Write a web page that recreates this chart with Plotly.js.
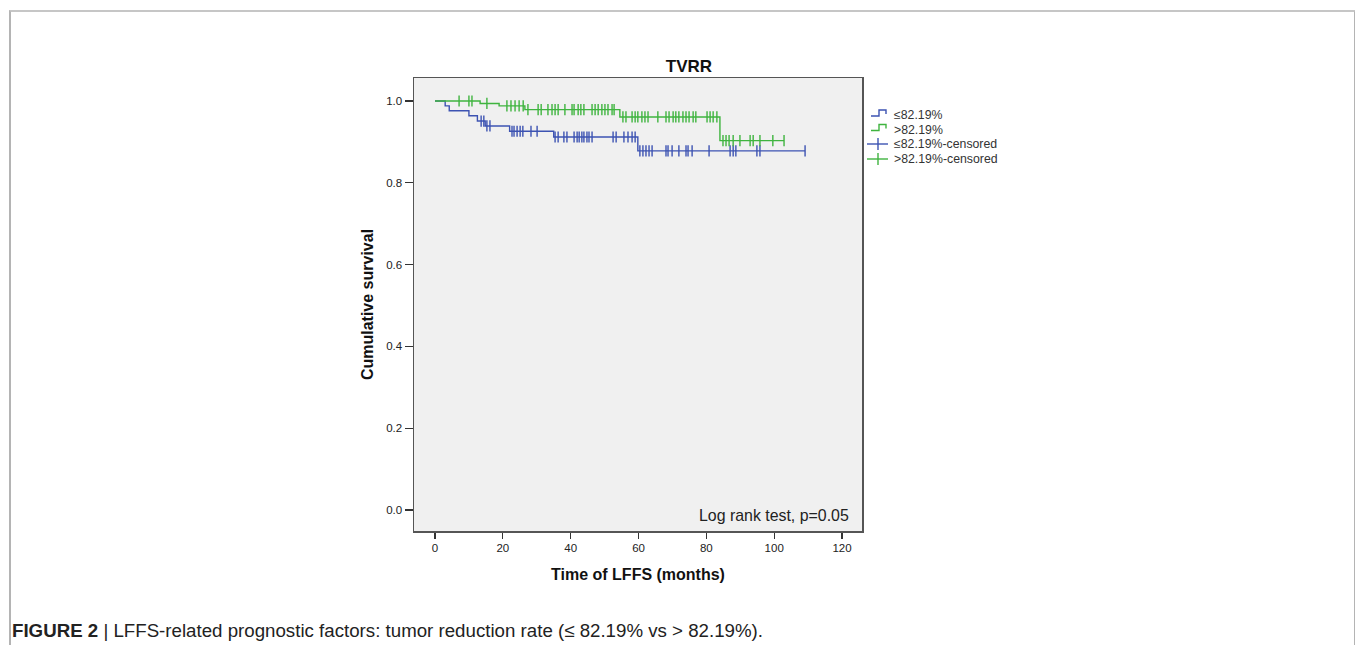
<!DOCTYPE html>
<html>
<head>
<meta charset="utf-8">
<script src="https://cdn.plot.ly/plotly-3.0.1.min.js"></script>
<style>
  html, body { margin: 0; padding: 0; background: #ffffff; width: 1355px; height: 645px; overflow: hidden; }
  #frame { position: absolute; left: 9px; top: 10px; width: 1343px; height: 700px;
           border-top: 2px solid #c6c6c6; border-left: 2px solid #b4b4b4; border-right: 2px solid #b4b4b4; }
  #chart { position: absolute; left: 0; top: 0; width: 1355px; height: 645px; }
</style>
</head>
<body>
<div id="frame"></div>
<div id="chart"></div>
<script>
// ---- data ----
const groupNames = ["≤82.19%", ">82.19%"];

// low group (≤82.19%): event times and survival after each event
const lowEventTimes = [3.0, 4.2, 10.0, 12.5, 14.8, 22.0, 35.0, 59.8];
const lowSurvival   = [0.988, 0.976, 0.964, 0.951, 0.939, 0.926, 0.912, 0.878];
const lowCensored   = [13.6, 14.4, 15.3, 16.2, 22.7, 23.3, 24.2, 25.1, 25.9, 28.3, 30.1,
                       35.4, 36.3, 38.0, 38.9, 41.0, 41.9, 42.5, 43.3, 43.9, 44.8, 45.4, 46.3,
                       52.5, 53.4, 55.7, 56.9, 58.1, 59.0, 60.4, 61.3, 62.2, 63.1, 64.0,
                       68.1, 68.7, 69.9, 71.9, 74.0, 74.6, 75.8, 80.8, 87.0, 87.9, 88.7,
                       94.9, 95.8, 109.1];

// high group (>82.19%)
const highEventTimes = [13.3, 18.9, 26.5, 54.5, 84.0];
const highSurvival   = [0.994, 0.988, 0.979, 0.961, 0.903];
const highCensored   = [7.1, 10.0, 10.9, 15.3, 21.2, 22.4, 23.6, 24.8, 26.0, 27.4, 30.4, 31.3,
                        33.3, 34.5, 35.4, 36.3, 38.3, 40.4, 41.0, 42.2, 43.0, 43.9, 46.3, 47.2,
                        48.1, 49.2, 50.1, 51.0, 52.2, 52.8, 55.4, 56.3, 58.1, 59.0, 59.8, 61.0,
                        61.9, 62.8, 65.7, 68.1, 69.0, 70.2, 71.0, 71.9, 73.1, 74.0, 74.9, 76.1,
                        76.9, 80.2, 81.1, 82.0, 83.1, 84.9, 85.8, 86.7, 87.9, 89.9, 92.9, 93.8,
                        95.8, 99.6, 102.9];

const xTicks = [0, 20, 40, 60, 80, 100, 120];
const yTicks = [0.0, 0.2, 0.4, 0.6, 0.8, 1.0];
const legendLabels = [groupNames[0], groupNames[1], groupNames[0] + "-censored", groupNames[1] + "-censored"];

// ---- helpers ----
function stepCurve(times, surv, censored) {
  const endT = Math.max(times[times.length - 1], censored[censored.length - 1]);
  const x = [0].concat(times, [endT]);
  const y = [1].concat(surv, [surv[surv.length - 1]]);
  return {x, y};
}
function survAt(times, surv, t) {
  let s = 1;
  for (let i = 0; i < times.length; i++) if (times[i] <= t) s = surv[i];
  return s;
}

const blue = "#3d53b2";
const green = "#3fb43f";

const lowC = stepCurve(lowEventTimes, lowSurvival, lowCensored);
const highC = stepCurve(highEventTimes, highSurvival, highCensored);

const traces = [
  {x: lowC.x, y: lowC.y, mode: "lines", line: {shape: "hv", color: blue, width: 1.4},
   showlegend: false, hoverinfo: "skip"},
  {x: highC.x, y: highC.y, mode: "lines", line: {shape: "hv", color: green, width: 1.4},
   showlegend: false, hoverinfo: "skip"},
  {x: lowCensored, y: lowCensored.map(t => survAt(lowEventTimes, lowSurvival, t)),
   mode: "markers", marker: {symbol: "line-ns-open", size: 8, color: blue, line: {color: blue, width: 1.4}},
   showlegend: false, hoverinfo: "skip"},
  {x: highCensored, y: highCensored.map(t => survAt(highEventTimes, highSurvival, t)),
   mode: "markers", marker: {symbol: "line-ns-open", size: 8, color: green, line: {color: green, width: 1.4}},
   showlegend: false, hoverinfo: "skip"}
];

const W = 1355, H = 645;
const L = 414, R = 862, T = 78, B = 531;
const pw = R - L, ph = B - T;
const px = v => (v - L) / pw;
const py = v => (B - v) / ph;

// manual legend (SPSS style)
const legendColors = [blue, green, blue, green];
const rowY = [115, 129.5, 144, 159];
const shapes = [];
const annotations = [];
for (let i = 0; i < 4; i++) {
  const y = rowY[i];
  if (i < 2) {
    const path = `M${px(871)},${py(y + 1)} L${px(879)},${py(y + 1)} L${px(879)},${py(y - 5)} L${px(886)},${py(y - 5)} L${px(886)},${py(y - 1)}`;
    shapes.push({type: "path", xref: "paper", yref: "paper", path,
                 line: {color: legendColors[i], width: 1.4}});
  } else {
    shapes.push({type: "line", xref: "paper", yref: "paper", x0: px(867), x1: px(888), y0: py(y), y1: py(y),
                 line: {color: legendColors[i], width: 1.4}});
    shapes.push({type: "line", xref: "paper", yref: "paper", x0: px(878), x1: px(878), y0: py(y - 6), y1: py(y + 6),
                 line: {color: legendColors[i], width: 1.4}});
  }
  annotations.push({text: legendLabels[i], xref: "paper", yref: "paper", x: px(892), y: py(y),
                    xanchor: "left", yanchor: "middle", showarrow: false,
                    font: {size: 12.3, color: "#333"}});
}

annotations.push(
  {text: "Log rank test, p=0.05", xref: "paper", yref: "paper",
   x: px(851), y: py(515), xanchor: "right", yanchor: "middle",
   showarrow: false, font: {size: 15.9, color: "#222"}},
  {text: "<b>FIGURE 2</b> | LFFS-related prognostic factors: tumor reduction rate (≤ 82.19% vs > 82.19%).",
   xref: "paper", yref: "paper",
   x: px(10), y: py(630.5), xanchor: "left", yanchor: "middle",
   showarrow: false, font: {size: 18.7, color: "#222"}}
);

const layout = {
  width: W, height: H,
  margin: {l: L, r: W - R, t: T, b: H - B, pad: 0},
  paper_bgcolor: "rgba(0,0,0,0)",
  plot_bgcolor: "#f0f0f0",
  font: {family: "Liberation Sans, Arial, sans-serif", size: 11, color: "#222"},
  title: {text: "<b>TVRR</b>", x: 689 / W, xanchor: "center", y: 1 - 66 / H, yanchor: "middle",
          font: {size: 17, color: "#111"}},
  xaxis: {
    range: [(L - 435) / 3.392, (R - 435) / 3.392],
    tickvals: xTicks, ticktext: xTicks.map(String),
    ticks: "outside", ticklen: 6, tickwidth: 1.2, tickcolor: "#333",
    showgrid: false, zeroline: false,
    showline: true, linecolor: "#555", linewidth: 1.5, mirror: true,
    tickfont: {size: 11.5, color: "#222"},
    title: {text: "<b>Time of LFFS (months)</b>", font: {size: 16, color: "#111"}, standoff: 15},
    fixedrange: true
  },
  yaxis: {
    range: [(510 - B) / 409, (510 - T) / 409],
    tickvals: yTicks, ticktext: yTicks.map(v => v.toFixed(1)),
    ticks: "outside", ticklen: 8, tickwidth: 1.2, tickcolor: "#333",
    showgrid: false, zeroline: false,
    showline: true, linecolor: "#555", linewidth: 1.5, mirror: true,
    tickfont: {size: 11.5, color: "#222"},
    title: {text: "<b>Cumulative survival</b>", font: {size: 16, color: "#111"}, standoff: 8},
    fixedrange: true
  },
  showlegend: false,
  shapes,
  annotations
};

Plotly.newPlot("chart", traces, layout, {staticPlot: true, displayModeBar: false});
</script>
</body>
</html>
